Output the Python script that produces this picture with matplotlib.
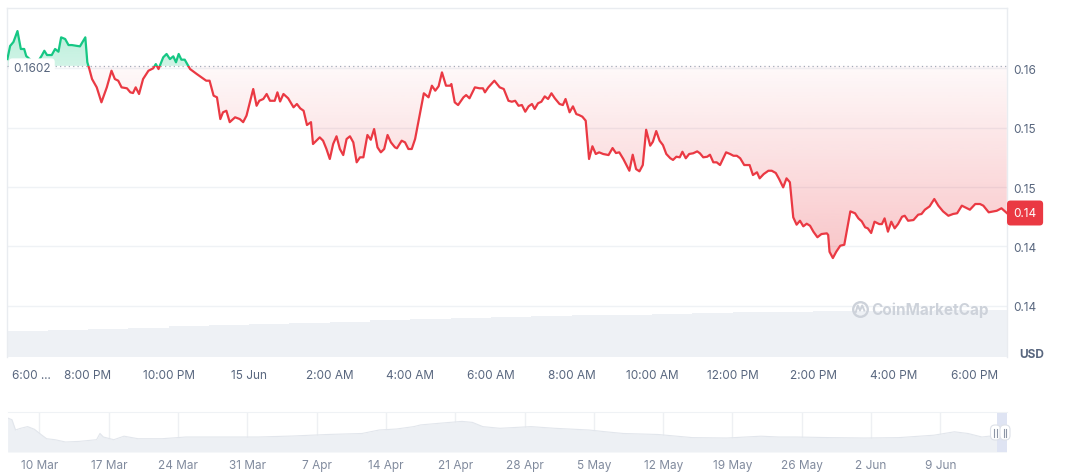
import numpy as np
import matplotlib
matplotlib.use("Agg")
import matplotlib.pyplot as plt
import matplotlib.colors as mcolors
from matplotlib.path import Path
from matplotlib.patches import Rectangle, FancyBboxPatch
from matplotlib.lines import Line2D
from matplotlib.transforms import IdentityTransform, ScaledTranslation

plt.rcParams['font.family'] = ['Inter', 'DejaVu Sans']

# ---------------- data ----------------
# minutes after 14 Jun 18:00
times = [
    0, 4, 9, 15, 20, 25, 28, 38, 46, 51,
    55, 59, 66, 71, 76, 80, 86, 91, 96, 108,
    116, 119, 122, 126, 133, 140, 148, 155, 160, 165,
    170, 178, 183, 187, 191, 196, 202, 210, 217, 221,
    225, 232, 237, 242, 247, 251, 255, 259, 264, 272,
    282, 289, 296, 301, 307, 312, 317, 321, 326, 331,
    339, 346, 351, 356, 366, 371, 375, 381, 386, 391,
    398, 402, 406, 411, 418, 426, 431, 436, 441, 446,
    452, 455, 460, 465, 470, 475, 480, 485, 490, 495,
    500, 505, 510, 515, 520, 525, 530, 536, 541, 546,
    551, 556, 561, 566, 571, 577, 580, 587, 592, 597,
    602, 607, 620, 627, 632, 637, 642, 647, 653, 659,
    661, 666, 671, 679, 683, 688, 696, 703, 708, 711,
    716, 725, 733, 739, 746, 751, 756, 761, 766, 771,
    776, 781, 785, 790, 795, 800, 805, 810, 815, 822,
    827, 831, 837, 842, 847, 851, 856, 861, 866, 871,
    876, 881, 887, 895, 901, 906, 911, 917, 926, 931,
    936, 941, 946, 951, 957, 961, 966, 971, 976, 981,
    987, 991, 996, 1001, 1005, 1010, 1015, 1021, 1027, 1031,
    1036, 1042, 1046, 1051, 1056, 1061, 1070, 1076, 1081, 1086,
    1091, 1097, 1105, 1110, 1116, 1120, 1126, 1133, 1138, 1144,
    1149, 1155, 1160, 1165, 1170, 1175, 1180, 1185, 1190, 1195,
    1200, 1206, 1212, 1220, 1222, 1224, 1229, 1234, 1240, 1246,
    1255, 1262, 1267, 1272, 1277, 1281, 1286, 1291, 1298, 1302,
    1306, 1311, 1316, 1321, 1326, 1332, 1336, 1341, 1349, 1356,
    1361, 1366, 1373, 1380, 1386, 1393, 1401, 1408, 1414, 1421,
    1428, 1433, 1441, 1448, 1453, 1461, 1473, 1480, 1488,
]
prices = [
    .16077, .16187, .16221, .16313, .16162, .16162, .16103, .16052, .16061, .16105,
    .16147, .16111, .16111, .16162, .16139, .16260, .16246, .16195, .16195, .16184,
    .16260, .16050, .15993, .15909, .15839, .15713, .15839, .15979, .15909, .15895,
    .15839, .15831, .15797, .15791, .15839, .15783, .15909, .15979, .15999, .16035,
    .15993, .16092, .16120, .16077, .16100, .16050, .16120, .16072, .16072, .15993,
    .15951, .15923, .15895, .15895, .15769, .15755, .15572, .15629, .15642, .15546,
    .15587, .15572, .15546, .15601, .15825, .15684, .15726, .15741, .15783, .15726,
    .15726, .15797, .15720, .15783, .15747, .15671, .15699, .15662, .15642, .15522,
    .15546, .15362, .15390, .15418, .15390, .15320, .15236, .15362, .15427, .15320,
    .15269, .15404, .15427, .15376, .15208, .15250, .15250, .15438, .15398, .15488,
    .15334, .15292, .15320, .15438, .15376, .15334, .15326, .15390, .15376, .15320,
    .15320, .15404, .15789, .15755, .15853, .15811, .15848, .15965, .15853, .15853,
    .15867, .15713, .15690, .15755, .15774, .15747, .15839, .15831, .15831, .15797,
    .15839, .15895, .15839, .15825, .15726, .15718, .15726, .15684, .15690, .15634,
    .15679, .15699, .15657, .15705, .15718, .15763, .15741, .15789, .15747, .15699,
    .15690, .15741, .15629, .15679, .15614, .15606, .15592, .15558, .15236, .15343,
    .15278, .15292, .15278, .15269, .15328, .15286, .15292, .15236, .15137, .15272,
    .15151, .15132, .15185, .15482, .15348, .15381, .15471, .15390, .15353, .15278,
    .15242, .15228, .15255, .15250, .15297, .15242, .15278, .15284, .15300, .15284,
    .15250, .15255, .15272, .15208, .15208, .15185, .15292, .15278, .15263, .15263,
    .15242, .15185, .15185, .15101, .15124, .15073, .15109, .15137, .15137, .15118,
    .15067, .14997, .15073, .15040, .14745, .14683, .14716, .14669, .14691, .14674,
    .14624, .14577, .14604, .14610, .14596, .14455, .14402, .14455, .14506, .14514,
    .14795, .14779, .14736, .14711, .14661, .14652, .14613, .14708, .14688, .14688,
    .14736, .14624, .14708, .14652, .14688, .14750, .14758, .14716, .14722, .14767,
    .14773, .14809, .14837, .14899, .14843, .14795, .14758, .14773, .14779, .14843,
    .14823, .14809, .14857, .14857, .14843, .14787, .14800, .14821, .14781,
]
open_price = 0.1602
open_label = "0.1602"
last_label = "0.14"

# hourly volume (arbitrary units, starting 18:00)
volume = [2.6, 2.7, 2.8, 2.95, 3.1, 3.2, 3.3, 3.45, 3.55, 3.7, 3.8, 3.9, 4.0,
          4.15, 4.2, 4.25, 4.3, 4.45, 4.5, 4.55, 4.6, 4.65, 4.65, 4.7, 4.75]

x_tick_minutes = [0, 120, 240, 360, 480, 600, 720, 840, 960, 1080, 1200, 1320, 1440]
x_tick_labels = ["6:00 ...", "8:00 PM", "10:00 PM", "15 Jun", "2:00 AM", "4:00 AM",
                 "6:00 AM", "8:00 AM", "10:00 AM", "12:00 PM", "2:00 PM", "4:00 PM", "6:00 PM"]
y_ticks = [0.16, 0.155, 0.15, 0.145, 0.14]
y_tick_labels = ["0.16", "0.15", "0.15", "0.14", "0.14"]

# navigator: days after 10 Mar, price
nav_days = [-3.22, -2.78, -2.42, -1.90, -1.20, -0.51, 0.02, 0.72, 1.57, 2.63,
            4.02, 5.77, 6.11, 6.45, 7.51, 8.54, 9.95, 12.37, 14.80, 18.30,
            22.13, 25.61, 29.10, 32.58, 34.32, 36.07, 37.81, 38.51, 40.60, 42.68,
            43.73, 44.78, 46.52, 49.65, 52.02, 55.51, 57.22, 58.98, 62.47, 65.95,
            69.44, 72.88, 74.66, 76.41, 79.85, 83.38, 86.82, 90.35, 92.42, 93.79,
            95.20, 95.91, 97.68]
nav_price = [0.2054, 0.2001, 0.1682, 0.1735, 0.1787, 0.1704, 0.1574, 0.1412, 0.1381, 0.1310,
             0.1329, 0.1381, 0.1574, 0.1465, 0.1381, 0.1490, 0.1412, 0.1412, 0.1465, 0.1465,
             0.1465, 0.1496, 0.1543, 0.1574, 0.1682, 0.1713, 0.1787, 0.1840, 0.1896, 0.1949,
             0.1918, 0.1787, 0.1735, 0.1787, 0.1735, 0.1682, 0.1626, 0.1574, 0.1543, 0.1446,
             0.1434, 0.1490, 0.1465, 0.1465, 0.1446, 0.1434, 0.1446, 0.1521, 0.1626, 0.1574,
             0.1465, 0.1490, 0.1481]
nav_tick_days = [0, 7, 14, 21, 28, 35, 42, 49, 56, 63, 70, 77, 84, 91]
nav_tick_labels = ["10 Mar", "17 Mar", "24 Mar", "31 Mar", "7 Apr", "14 Apr", "21 Apr",
                   "28 Apr", "5 May", "12 May", "19 May", "26 May", "2 Jun", "9 Jun"]
nav_sel_start = 96.75

# ---------------- layout ----------------
W, H = 1072, 477
fig = plt.figure(figsize=(W / 100, H / 100), dpi=100)
fig.patch.set_facecolor('white')


def rect(x0, y0, x1, y1):
    return [x0 / W, 1 - y1 / H, (x1 - x0) / W, (y1 - y0) / H]


def fx(x):
    return x / W


def fy(y):
    return 1 - y / H


GREEN = '#16c784'
RED = '#ea3943'
LABEL = '#58667e'
GRID = '#eff2f5'
MAIN = rect(7.4, 9, 1006.5, 358)
XMAX = 1487.5
YLO, YHI = 0.13569, 0.16507

# volume axes (behind)
axv = fig.add_axes(MAIN)
vol_x = [60 * i for i in range(len(volume))]
axv.bar(vol_x, volume, width=60, align='edge', color='#eef1f5', linewidth=0)
axv.set_xlim(0, XMAX)
axv.set_ylim(0, 34.9)
axv.axis('off')

# price axes
ax = fig.add_axes(MAIN)
ax.set_facecolor('none')
t = np.array(times, dtype=float)
p = np.array(prices)

up = Rectangle((0, open_price), XMAX, YHI - open_price, transform=ax.transData)
dn = Rectangle((0, YLO), XMAX, open_price - YLO, transform=ax.transData)


def grad_fill(mask, color, a_base, a_far, y_far):
    coll = ax.fill_between(t, p, open_price, where=mask, interpolate=True,
                           facecolor='none', edgecolor='none')
    cp = Path.make_compound_path(*coll.get_paths())
    coll.remove()
    n = 256
    img = np.zeros((n, 1, 4))
    img[..., :3] = mcolors.to_rgb(color)
    lo, hi = min(open_price, y_far), max(open_price, y_far)
    if y_far < open_price:
        img[:, 0, 3] = np.linspace(a_far, a_base, n)
    else:
        img[:, 0, 3] = np.linspace(a_base, a_far, n)
    im = ax.imshow(img, extent=[0, XMAX, lo, hi], origin='lower', aspect='auto',
                   interpolation='bilinear', zorder=2)
    im.set_clip_path(cp, ax.transData)


grad_fill(p >= open_price, GREEN, 0.20, 0.32, 0.1640)
grad_fill(p <= open_price, RED, 0.03, 0.30, 0.1435)

l1, = ax.plot(t, p, color=GREEN, lw=1.6, zorder=4, solid_joinstyle='round')
l1.set_clip_path(up)
l2, = ax.plot(t, p, color=RED, lw=1.6, zorder=4, solid_joinstyle='round')
l2.set_clip_path(dn)

ax.axhline(open_price, color='#a3abb9', lw=0.9, ls=(0, (1, 2.5)), zorder=3)

ax.set_xlim(0, XMAX)
ax.set_ylim(YLO, YHI)
ax.set_yticks(y_ticks)
ax.set_yticklabels(y_tick_labels)
ax.yaxis.tick_right()
ax.tick_params(axis='y', length=0, pad=5, labelsize=8.5, labelcolor=LABEL)
ax.grid(axis='y', color=GRID, lw=1)
ax.set_axisbelow(True)
ax.set_xticks(x_tick_minutes)
ax.set_xticklabels(x_tick_labels)
ax.tick_params(axis='x', length=0, pad=9, labelsize=8.5, labelcolor=LABEL)
lbls = ax.get_xticklabels()
lbls[0].set_ha('left')
lbls[0].set_transform(lbls[0].get_transform() + ScaledTranslation(3 / 72, 0, fig.dpi_scale_trans))
for s in ['top', 'left', 'right']:
    ax.spines[s].set_color('#e9ecf0')
    ax.spines[s].set_linewidth(1)
ax.spines['bottom'].set_visible(False)

# open price label
fig.text(fx(13), fy(69.5), open_label, ha='left', va='center', fontsize=8.5, color=LABEL,
         bbox=dict(boxstyle='round,pad=0.35,rounding_size=0.3', fc='white', ec='none'), zorder=10)
# last price tag
fig.text(fx(1013.5), fy(214), last_label, ha='left', va='center', fontsize=8.5, color='white',
         bbox=dict(boxstyle='round,pad=0.55,rounding_size=0.3', fc=RED, ec='none'), zorder=10)
fig.text(fx(1032), fy(355), 'USD', ha='center', va='center', fontsize=8.5,
         weight='bold', color=LABEL)

# watermark
wm = '#cdd2da'
fig.add_artist(Line2D([fx(860)], [fy(309.5)], marker='o', markersize=10.5, mfc='none',
                      mec=wm, mew=1.7, transform=fig.transFigure))
fig.add_artist(Line2D([fx(855.8), fx(857.8), fx(860), fx(862.2), fx(864.3)],
                      [fy(313), fy(306.5), fy(311.5), fy(306.5), fy(311.5)],
                      color=wm, lw=1.4, transform=fig.transFigure))
fig.text(fx(871.5), fy(310), 'CoinMarketCap', ha='left', va='center', fontsize=11,
         weight='bold', color=wm)

# navigator
axn = fig.add_axes(rect(8, 413, 1006.5, 453))
axn.fill_between(nav_days, nav_price, 0.10, color='#edf0f4', lw=0)
axn.plot(nav_days, nav_price, color='#e2e6ec', lw=0.8)
axn.axvspan(nav_sel_start, nav_days[-1], color='#dfe4f3', lw=0)
axn.set_xlim(-3.18, 97.68)
axn.set_ylim(0.10, 0.224)
axn.set_yticks([])
axn.set_xticks(nav_tick_days)
axn.set_xticklabels(nav_tick_labels)
axn.tick_params(axis='x', length=0, pad=5, labelsize=8.5, labelcolor='#808a9d')
axn.grid(axis='x', color='#eef0f3', lw=1)
axn.set_axisbelow(True)
for s in ['left', 'right', 'bottom']:
    axn.spines[s].set_visible(False)
axn.spines['top'].set_color('#eff2f5')

# handles
for cx in (995.5, 1005):
    fig.add_artist(FancyBboxPatch((cx - 5, H - 441), 10, 15,
                                  boxstyle='round,pad=0,rounding_size=4.5',
                                  fc='white', ec='#dde1e8', lw=0.8,
                                  transform=IdentityTransform(), zorder=12))
    for dx in (-1.3, 1.3):
        fig.add_artist(Line2D([cx + dx, cx + dx], [H - 437.5, H - 429.5], color='#8d96a6',
                              lw=0.8, transform=IdentityTransform(), zorder=13))

fig.savefig('out.png', dpi=100, facecolor='white')
